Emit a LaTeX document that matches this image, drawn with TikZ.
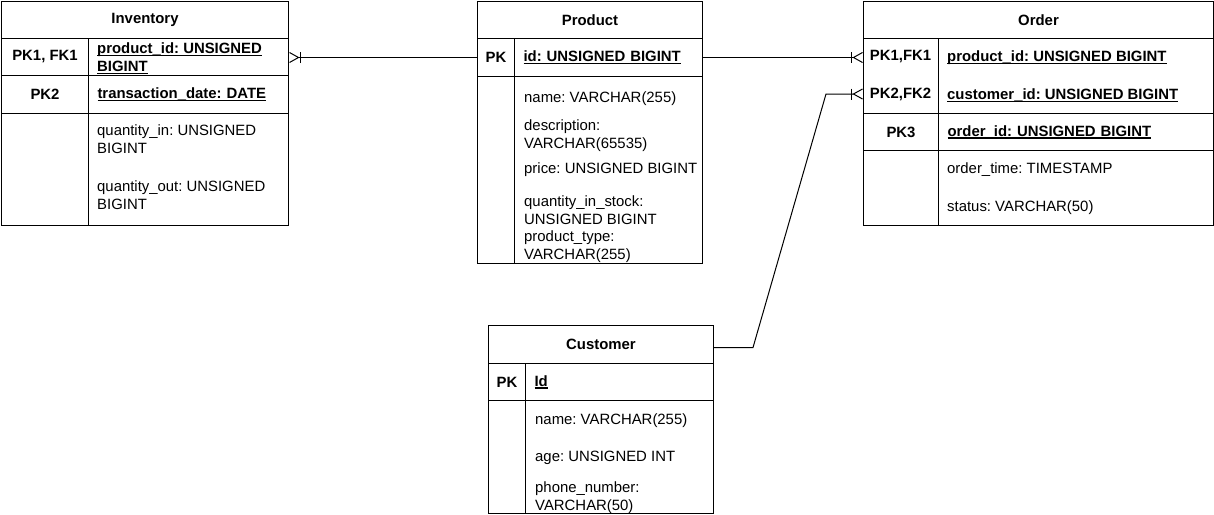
\documentclass[tikz,border=0pt]{standalone}
\usepackage{fontspec}
\setmainfont{Liberation Sans}
\usetikzlibrary{arrows.meta}
\newsavebox\keybox
\newcommand\keyline[1]{\leavevmode\sbox\keybox{#1}\rlap{\rule[-2.2pt]{\wd\keybox}{1.1pt}}\usebox\keybox}
\frenchspacing
\tikzset{
  cell/.style={draw, rectangle, line width=1pt, inner sep=0pt, anchor=north west,
    font=\fontsize{14.9}{18}\selectfont\bfseries},
  fcell/.style={cell, inner xsep=9pt, align=left, text width=#1},
  body/.style={inner sep=0pt, anchor=west, align=left, yshift=-1.5pt, font=\fontsize{14.9}{18}\selectfont},
  rel/.style={line width=1pt, -{Bar[width=11pt, line width=1pt]Straight Barb[reversed, length=9pt, width=10pt, line width=1pt]}}
}
\begin{document}
\begin{tikzpicture}[x=1pt, y=-1pt]
  \useasboundingbox (0,0) rectangle (1214,514);

  %%%%% Inventory %%%%%
  \node[cell, minimum width=287, minimum height=37] (inv) at (1,1) {Inventory};
  \node[cell, minimum width=87, minimum height=37] (invK1) at (1,38) {PK1, FK1};
  \node[cell, minimum width=200, minimum height=37] (invF1) at (88,38) {};
  \node[body, font=\fontsize{14.9}{18}\selectfont\bfseries] (invF1t) at (97,57) {\keyline{product\_id: UNSIGNED}\\\keyline{BIGINT}};
  \node[cell, minimum width=87, minimum height=38] (invK2) at (1,75) {PK2};
  \node[fcell=182pt, minimum height=38] (invF2) at (88,75) {\keyline{transaction\_date: DATE}};
  \node[cell, minimum width=87, minimum height=112] (invK3) at (1,113) {};
  \node[cell, minimum width=200, minimum height=112] (invF3) at (88,113) {};
  \node[body] (invQin) at (97,138) {quantity\_in: UNSIGNED\\BIGINT};
  \node[body] (invQout) at (97,194) {quantity\_out: UNSIGNED\\BIGINT};

  %%%%% Product %%%%%
  \node[cell, minimum width=225, minimum height=37] (prod) at (477,1) {Product};
  \node[cell, minimum width=37, minimum height=38] (prodK) at (477,38) {PK};
  \node[fcell=170pt, minimum height=38] (prodF) at (514,38) {\keyline{id: UNSIGNED BIGINT}};
  \node[cell, minimum width=37, minimum height=187] (prodK2) at (477,76) {};
  \node[cell, minimum width=188, minimum height=187] (prodF2) at (514,76) {};
  \node[body] (prodName) at (524,97) {name: VARCHAR(255)};
  \node[body] (prodDesc) at (524,134) {description:\\VARCHAR(65535)};
  \node[body] (prodPrice) at (524,168) {price: UNSIGNED BIGINT};
  \node[body] (prodStock) at (524,208.5) {quantity\_in\_stock:\\UNSIGNED BIGINT};
  \node[body] (prodType) at (524,245.5) {product\_type:\\VARCHAR(255)};

  %%%%% Order %%%%%
  \node[cell, minimum width=350, minimum height=37] (ord) at (863,1) {Order};
  \node[cell, minimum width=75, minimum height=75] (ordFK) at (863,38) {};
  \node[cell, draw=none] (ordK1) at (900.5,56.5) [anchor=center] {PK1,FK1};
  \node[cell, draw=none] (ordK2) at (900.5,94) [anchor=center] {PK2,FK2};
  \node[cell, minimum width=275, minimum height=75] (ordF) at (938,38) {};
  \node[body, font=\fontsize{14.9}{18}\selectfont\bfseries] (ordF1) at (947,56.5) {\keyline{product\_id: UNSIGNED BIGINT}};
  \node[body, font=\fontsize{14.9}{18}\selectfont\bfseries] (ordF2) at (947,94) {\keyline{customer\_id: UNSIGNED BIGINT}};
  \node[cell, minimum width=75, minimum height=37] (ordK3) at (863,113) {PK3};
  \node[fcell=257pt, minimum height=37] (ordF3) at (938,113) {\keyline{order\_id: UNSIGNED BIGINT}};
  \node[cell, minimum width=75, minimum height=75] (ordK4) at (863,150) {};
  \node[cell, minimum width=275, minimum height=75] (ordF4) at (938,150) {};
  \node[body] (ordTime) at (947,168) {order\_time: TIMESTAMP};
  \node[body] (ordStatus) at (947,206) {status: VARCHAR(50)};

  %%%%% Customer %%%%%
  \node[cell, minimum width=225, minimum height=38] (cust) at (488,325) {Customer};
  \node[cell, minimum width=37, minimum height=37] (custK) at (488,363) {PK};
  \node[fcell=170pt, minimum height=37] (custF) at (525,363) {\keyline{Id}};
  \node[cell, minimum width=37, minimum height=113] (custK2) at (488,400) {};
  \node[cell, minimum width=188, minimum height=113] (custF2) at (525,400) {};
  \node[body] (custName) at (535,419) {name: VARCHAR(255)};
  \node[body] (custAge) at (535,456) {age: UNSIGNED INT};
  \node[body] (custPhone) at (535,496) {phone\_number:\\VARCHAR(50)};

  %%%%% relations %%%%%
  \coordinate (invIn) at (prodK.west -| invF1.east);
  \coordinate (ordIn1) at (prodF.east -| ordFK.west);
  \coordinate (ordIn2) at (ordK2 -| ordFK.west);
  \draw[rel] (prodK.west) -- (invIn);
  \draw[rel] (prodF.east) -- (ordIn1);
  \draw[rel] ([yshift=-3pt]cust.east) -- ++(39,0) -- ([xshift=-37pt]ordIn2) -- (ordIn2);
\end{tikzpicture}
\end{document}
